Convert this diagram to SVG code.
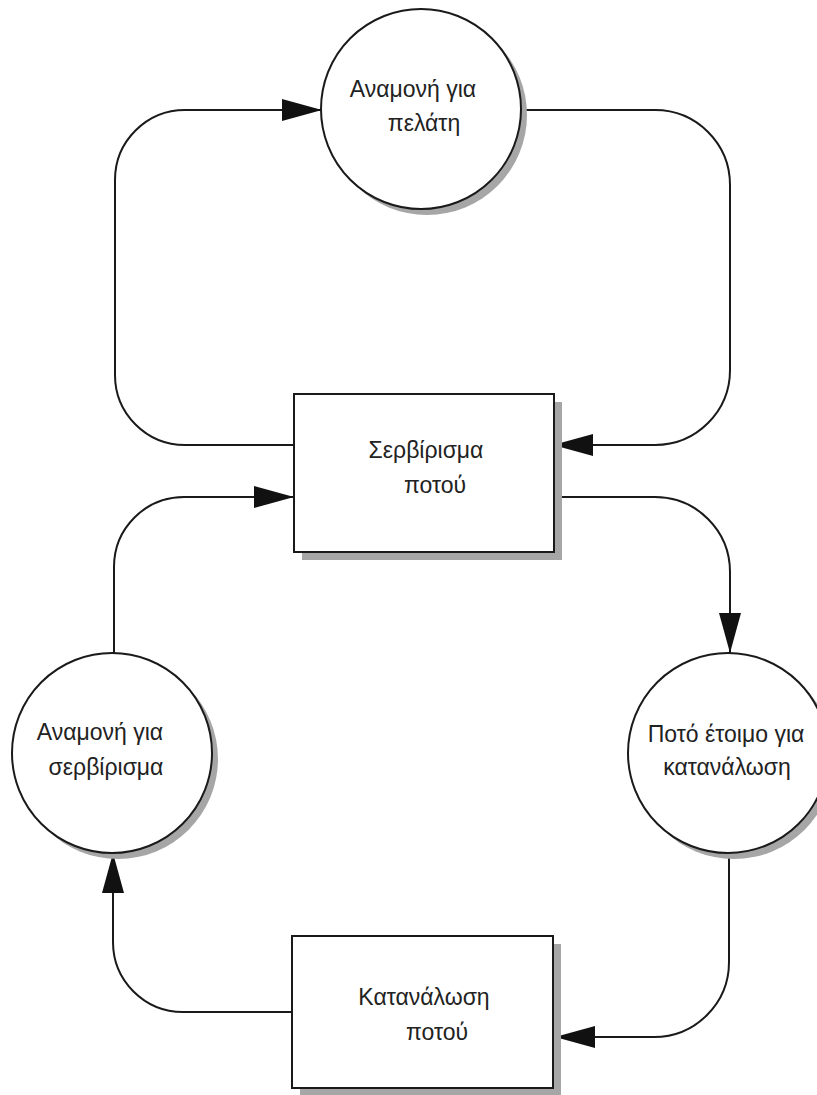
<svg xmlns="http://www.w3.org/2000/svg" width="817" height="1095" viewBox="0 0 817 1095">
  <defs>
    <style>
      .shape { fill: #ffffff; stroke: #1a1a1a; stroke-width: 2; }
      .shadow { fill: #a6a6a6; stroke: none; }
      .edge { fill: none; stroke: #1a1a1a; stroke-width: 2; }
      .label { font-family: "Liberation Sans", Arial, sans-serif; font-size: 23px; fill: #222222; text-anchor: middle; }
    </style>
    <marker id="arrow" markerUnits="userSpaceOnUse" markerWidth="40" markerHeight="22" refX="40" refY="11" orient="auto">
      <path d="M0,0 L40,11 L0,22 Z" fill="#111111"/>
    </marker>
  </defs>

  <rect width="817" height="1095" fill="#ffffff"/>

  <!-- connectors -->
  <g id="connectors">
    <!-- serve -> waiting for customer (left loop, top) -->
    <path class="edge" d="M294,445 L185,445 A70,70 0 0 1 115,375 L115,180 A70,70 0 0 1 185,110 L322,110" marker-end="url(#arrow)"/>
    <!-- waiting for customer -> serve (right loop, top) -->
    <path class="edge" d="M521,110 L655,110 A75,75 0 0 1 730,185 L730,370 A75,75 0 0 1 655,445 L553,445" marker-end="url(#arrow)"/>
    <!-- serve -> drink ready -->
    <path class="edge" d="M553,497 L655,497 A75,75 0 0 1 730,572 L730,653" marker-end="url(#arrow)"/>
    <!-- drink ready -> consume -->
    <path class="edge" d="M729,853 L729,962 A75,75 0 0 1 654,1037 L555,1037" marker-end="url(#arrow)"/>
    <!-- consume -> waiting for service -->
    <path class="edge" d="M292,1012 L183,1012 A70,70 0 0 1 113,942 L113,853" marker-end="url(#arrow)"/>
    <!-- waiting for service -> serve -->
    <path class="edge" d="M114,653 L114,567 A70,70 0 0 1 184,497 L294,497" marker-end="url(#arrow)"/>
  </g>

  <!-- state: waiting for customer -->
  <g id="node-wait-customer">
    <circle class="shadow" cx="427" cy="115" r="100"/>
    <circle class="shape" cx="421" cy="109" r="100"/>
    <text class="label" x="413" y="97">Αναμονή για</text>
    <text class="label" x="424" y="131">πελάτη</text>
  </g>

  <!-- activity: serve drink -->
  <g id="node-serve">
    <rect class="shadow" x="302" y="402" width="260" height="158"/>
    <rect class="shape" x="294" y="394" width="260" height="158"/>
    <text class="label" x="426" y="458">Σερβίρισμα</text>
    <text class="label" x="435" y="493">ποτού</text>
  </g>

  <!-- state: waiting for service -->
  <g id="node-wait-service">
    <circle class="shadow" cx="118" cy="759" r="100"/>
    <circle class="shape" cx="112" cy="753" r="100"/>
    <text class="label" x="100" y="740">Αναμονή για</text>
    <text class="label" x="106" y="775">σερβίρισμα</text>
  </g>

  <!-- state: drink ready -->
  <g id="node-drink-ready">
    <circle class="shadow" cx="734" cy="759" r="100"/>
    <circle class="shape" cx="728" cy="753" r="100"/>
    <text class="label" x="726" y="742">Ποτό έτοιμο για</text>
    <text class="label" x="727" y="775">κατανάλωση</text>
  </g>

  <!-- activity: consume drink -->
  <g id="node-consume">
    <rect class="shadow" x="300" y="944" width="261" height="152"/>
    <rect class="shape" x="292" y="936" width="261" height="152"/>
    <text class="label" x="424" y="1005">Κατανάλωση</text>
    <text class="label" x="437" y="1040">ποτού</text>
  </g>
</svg>
